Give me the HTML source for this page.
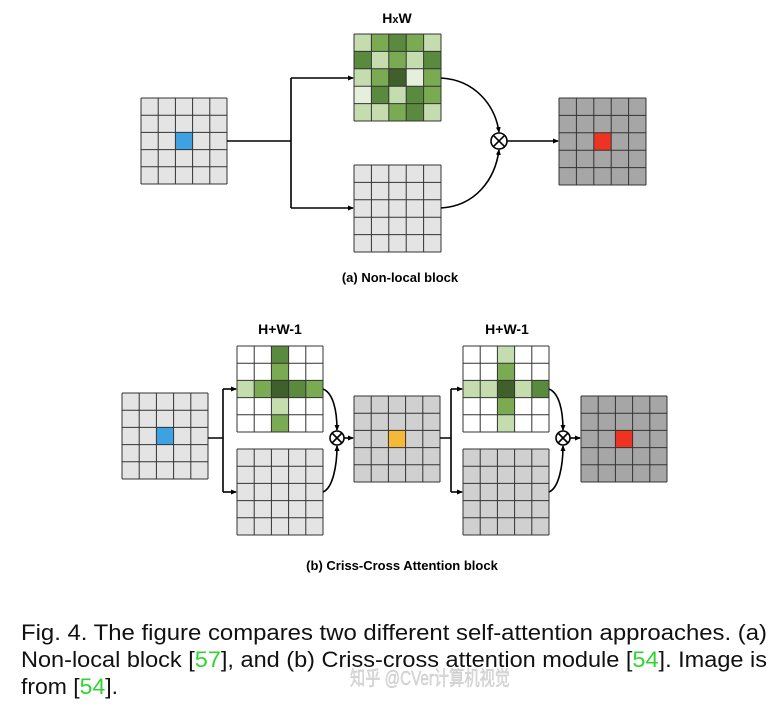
<!DOCTYPE html>
<html><head><meta charset="utf-8"><style>
html,body{margin:0;padding:0;background:#fff;}
svg{display:block;}
</style></head><body>
<svg id="s" width="777" height="707" viewBox="0 0 777 707" xmlns="http://www.w3.org/2000/svg">
<defs>
<marker id="ah" markerWidth="6" markerHeight="6" refX="5" refY="3" orient="auto" markerUnits="userSpaceOnUse"><path d="M0,0.5 L6,3 L0,5.5 z" fill="#000"/></marker>
</defs>
<g id="grids"></g>
<g fill="none" stroke="#000" stroke-width="1.6">
<!-- part a -->
<path d="M227,141 H291 M291,78 V208"/>
<path d="M291,78 H353" marker-end="url(#ah)"/>
<path d="M291,208 H353" marker-end="url(#ah)"/>
<path d="M441,78 C475,80 495,105 499,132" marker-end="url(#ah)"/>
<path d="M441,208 C475,206 495,180 499,150" marker-end="url(#ah)"/>
<circle cx="499" cy="141" r="8"/>
<path d="M493.3,135.3 L504.7,146.7 M504.7,135.3 L493.3,146.7"/>
<path d="M507,141 H558" marker-end="url(#ah)"/>
<!-- part b -->
<path d="M208,438 H223 M223,389 V492"/>
<path d="M223,389 H236" marker-end="url(#ah)"/>
<path d="M223,492 H236" marker-end="url(#ah)"/>
<path d="M323,389 C333,393 337,410 337,430" marker-end="url(#ah)"/>
<path d="M323,492 C333,488 337,465 337,446" marker-end="url(#ah)"/>
<circle cx="337" cy="438" r="7"/>
<path d="M332,433 L342,443 M342,433 L332,443"/>
<path d="M344,438 H353" marker-end="url(#ah)"/>
<path d="M440,438 H451 M451,389 V492"/>
<path d="M451,389 H462" marker-end="url(#ah)"/>
<path d="M451,492 H462" marker-end="url(#ah)"/>
<path d="M549,389 C559,393 563,410 563,430" marker-end="url(#ah)"/>
<path d="M549,492 C559,488 563,465 563,446" marker-end="url(#ah)"/>
<circle cx="563" cy="438" r="7"/>
<path d="M558,433 L568,443 M568,433 L558,443"/>
<path d="M570,438 H580" marker-end="url(#ah)"/>
</g>
<g font-family="Liberation Sans, sans-serif" font-weight="bold" text-anchor="middle" fill="#000">
<text x="397" y="23" font-size="14">H<tspan font-size="11">x</tspan>W</text>
<text x="400" y="282" font-size="13">(a) Non-local block</text>
<text x="280" y="334" font-size="14">H+W-1</text>
<text x="507" y="334" font-size="14">H+W-1</text>
<text x="402" y="570" font-size="13">(b) Criss-Cross Attention block</text>
</g>
<g font-family="Liberation Sans, sans-serif" font-size="22" fill="#111">
<text x="21" y="640" textLength="746" lengthAdjust="spacingAndGlyphs">Fig. 4. The figure compares two different self-attention approaches. (a)</text>
<text x="21" y="667" textLength="746" lengthAdjust="spacingAndGlyphs">Non-local block [<tspan fill="#2fd52f">57</tspan>], and (b) Criss-cross attention module [<tspan fill="#2fd52f">54</tspan>]. Image is</text>
<text x="21" y="694" textLength="97" lengthAdjust="spacingAndGlyphs">from [<tspan fill="#2fd52f">54</tspan>].</text>
</g>
<text x="350" y="685" font-family="Liberation Sans, 'Noto Sans CJK SC', sans-serif" font-size="20" fill="#d8d8d8" stroke="#bbb" stroke-width="0.4" textLength="160" lengthAdjust="spacingAndGlyphs" opacity="0.9">知乎 @CVer计算机视觉</text>
</svg>
<script>
var L='#c5dcaf',M='#7aab52',D='#5a8a3e',V='#3f5f2b',W='#e6efdc';
function grid(x,y,s,bg,cells){
 var c=s/5,h='<rect x="'+x+'" y="'+y+'" width="'+s+'" height="'+s+'" fill="'+bg+'"/>';
 for(var r=0;r<5;r++)for(var k=0;k<5;k++){var f=cells&&cells[r]&&cells[r][k];if(f)h+='<rect x="'+(x+k*c)+'" y="'+(y+r*c)+'" width="'+c+'" height="'+c+'" fill="'+f+'"/>';}
 var p='';for(var i=0;i<=5;i++){p+='M'+(x+i*c)+','+y+' V'+(y+s)+' M'+x+','+(y+i*c)+' H'+(x+s)+' ';}
 h+='<path d="'+p+'" stroke="#333" stroke-width="1" fill="none"/>';return h;}
function one(r,k,f){var a=[[],[],[],[],[]];a[r][k]=f;return a;}
var g='';
g+=grid(141,98,86,'#e4e4e4',one(2,2,'#3ea2e2'));
g+=grid(354,34,87,'#fff',[[L,M,D,M,L],[D,L,M,L,D],[L,M,V,W,M],[W,D,L,D,M],[L,L,M,D,L]]);
g+=grid(354,165,87,'#e4e4e4');
g+=grid(559,98,87,'#a6a6a6',one(2,2,'#ee3323'));
g+=grid(122,393,86,'#e4e4e4',one(2,2,'#3ea2e2'));
g+=grid(237,346,86,'#fff',[[0,0,D],[0,0,M],[L,M,V,D,M],[0,0,L],[0,0,M]]);
g+=grid(237,449,86,'#e4e4e4');
g+=grid(354,396,86,'#d0d0d0',one(2,2,'#f5b93a'));
g+=grid(463,346,86,'#fff',[[0,0,L],[0,0,M],[L,L,V,L,D],[0,0,M],[0,0,L]]);
g+=grid(463,449,86,'#d0d0d0');
g+=grid(581,396,86,'#a6a6a6',one(2,2,'#ee3323'));
document.getElementById('grids').innerHTML=g;
</script>
</body></html>
